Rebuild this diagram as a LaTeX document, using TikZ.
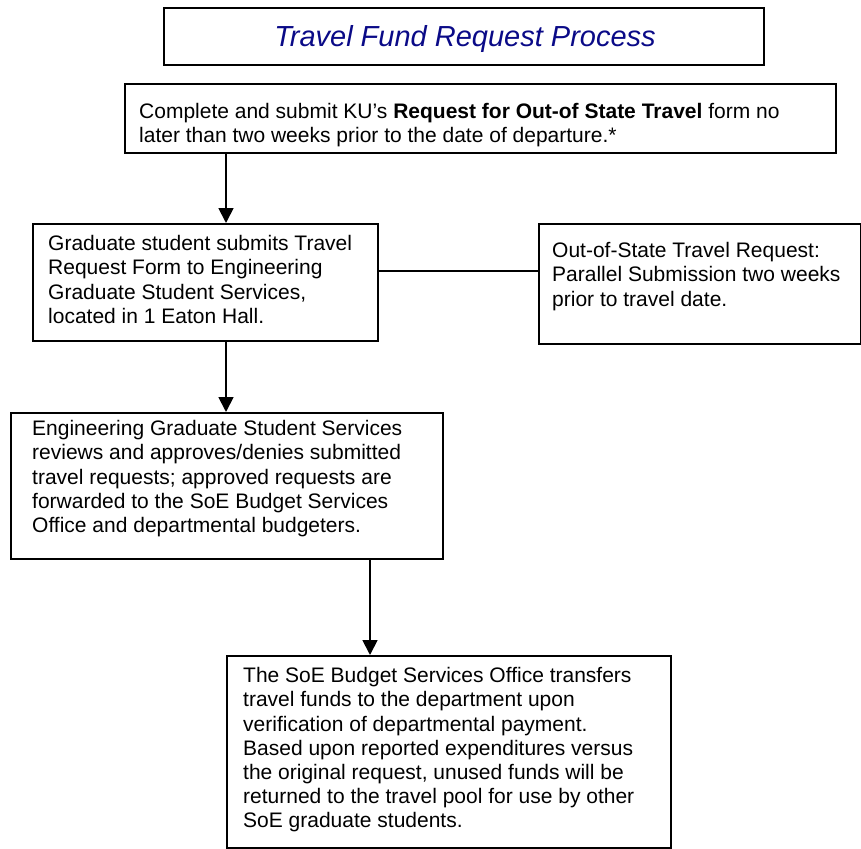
\documentclass[tikz,border=0pt]{standalone}
\usepackage{fontspec}
\setmainfont{Liberation Sans}
\usetikzlibrary{arrows.meta}
\definecolor{titleblue}{RGB}{10,10,135}
\begin{document}
\begin{tikzpicture}[x=1pt,y=-1pt,
  box/.style={draw=black, line width=1.8pt, inner sep=0pt, anchor=north west},
  txt/.style={align=left, inner sep=0pt, anchor=north west, font=\fontsize{21}{24.2}\selectfont},
  arr/.style={line width=1.8pt, -{Triangle[width=15pt,length=15pt]}},
  link/.style={line width=1.8pt}]
\useasboundingbox (0,0) rectangle (861,848);
% boxes
\node[box, minimum width=600pt, minimum height=57pt] (title) at (163,7) {};
\node[box, minimum width=711pt, minimum height=69pt] (b1) at (124,83) {};
\node[box, minimum width=345pt, minimum height=117pt] (b2) at (32,223) {};
\node[box, minimum width=322pt, minimum height=120pt] (b3) at (538,223) {};
\node[box, minimum width=432pt, minimum height=146pt] (b4) at (10,412) {};
\node[box, minimum width=444pt, minimum height=192pt] (b5) at (226,655) {};
% texts
\node[anchor=base, inner sep=0pt, font=\fontsize{29}{33}\selectfont\itshape, text=titleblue] (tt) at (465,46.5) {Travel Fund Request Process};
\node[txt] (t1) at (139,103.2) {Complete and submit KU’s {\bfseries Request for Out-of State Travel} form no\\later than two weeks prior to the date of departure.*};
\node[txt] (t2) at (48,235.2) {Graduate student submits Travel\\Request Form to Engineering\\Graduate Student Services,\\located in 1 Eaton Hall.};
\node[txt] (t3) at (552,242.2) {Out-of-State Travel Request:\\Parallel Submission two weeks\\prior to travel date.};
\node[txt] (t4) at (32,420.2) {Engineering Graduate Student Services\\reviews and approves/denies submitted\\travel requests; approved requests are\\forwarded to the SoE Budget Services\\Office and departmental budgeters.};
\node[txt] (t5) at (243,667.2) {The SoE Budget Services Office transfers\\travel funds to the department upon\\verification of departmental payment.\\Based upon reported expenditures versus\\the original request, unused funds will be\\returned to the travel pool for use by other\\SoE graduate students.};
% connectors
\coordinate (a1) at (226,0);
\coordinate (a3) at (370,0);
\coordinate (l1) at (0,271);
\draw[arr] (b1.south -| a1) -- (b2.north -| a1);
\draw[link] (b2.east |- l1) -- (b3.west |- l1);
\draw[arr] (b2.south -| a1) -- (b4.north -| a1);
\draw[arr] (b4.south -| a3) -- (b5.north -| a3);
\end{tikzpicture}
\end{document}
